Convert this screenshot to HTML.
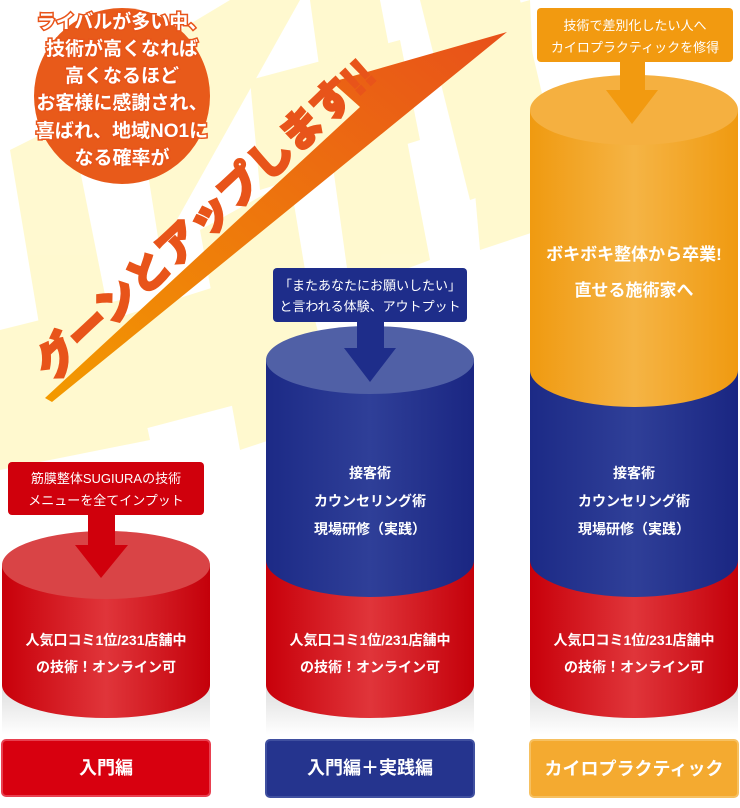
<!DOCTYPE html>
<html><head><meta charset="utf-8"><style>
html,body{margin:0;padding:0;background:#fff;}
svg{display:block;font-family:"Liberation Sans","Noto Sans CJK JP",sans-serif;}
</style></head><body>
<svg width="740" height="808" viewBox="0 0 740 808" xmlns="http://www.w3.org/2000/svg">
<defs>
<linearGradient id="red" x1="0" x2="1"><stop offset="0" stop-color="#c8000a"/><stop offset="0.5" stop-color="#e0353a"/><stop offset="1" stop-color="#c4000a"/></linearGradient>
<linearGradient id="blue" x1="0" x2="1"><stop offset="0" stop-color="#1c2a86"/><stop offset="0.5" stop-color="#2f3f98"/><stop offset="1" stop-color="#1a2682"/></linearGradient>
<linearGradient id="ora" x1="0" x2="1"><stop offset="0" stop-color="#f09a10"/><stop offset="0.5" stop-color="#f5b445"/><stop offset="1" stop-color="#f09a10"/></linearGradient>
<linearGradient id="refl" x1="0" y1="0" x2="0" y2="1"><stop offset="0" stop-color="#ddd"/><stop offset="1" stop-color="#fff"/></linearGradient>
<linearGradient id="arr" x1="0" y1="1" x2="1" y2="0"><stop offset="0" stop-color="#f39a00"/><stop offset="1" stop-color="#e8501a"/></linearGradient>
</defs>
<!-- rays -->
<g fill="#fff8c4" opacity="0.8">
<polygon points="10,150 70,120 130,420 60,450"/>
<polygon points="130,60 230,0 300,0 160,250"/>
<polygon points="200,230 290,180 330,420 240,450"/>
<polygon points="310,0 380,0 430,260 350,290"/>
<polygon points="420,0 520,0 560,170 470,200"/>
<polygon points="460,20 530,0 540,230 480,250"/>
<polygon points="0,330 120,300 150,440 0,470"/>
<polygon points="110,320 300,260 330,380 140,430"/>
<polygon points="250,80 400,40 420,140 260,190"/>
</g>
<!-- big arrow -->
<polygon points="45,398 360,107 332,82 507,32 52,402" fill="url(#arr)"/>
<text transform="translate(52,382) rotate(-43)" font-size="42" font-weight="900" fill="#e8541a" stroke="#e8541a" stroke-width="2.2" letter-spacing="0">グーンとアップします!!</text>
<!-- circle -->
<circle cx="122" cy="96" r="88" fill="#e85a1a"/>
<g font-size="19" font-weight="bold" fill="#fff" text-anchor="middle" stroke="#e8541a" stroke-width="3" paint-order="stroke">
<text x="122" y="28">ライバルが多い中、</text>
<text x="122" y="55">技術が高くなれば</text>
<text x="122" y="82">高くなるほど</text>
<text x="122" y="109">お客様に感謝され、</text>
<text x="122" y="137">喜ばれ、地域NO1に</text>
<text x="122" y="164">なる確率が</text>
</g>

<!-- reflections -->
<rect x="2" y="685" width="208" height="50" fill="url(#refl)"/>
<rect x="266" y="685" width="208" height="50" fill="url(#refl)"/>
<rect x="530" y="685" width="208" height="50" fill="url(#refl)"/>

<!-- cylinder 1 -->
<rect x="2" y="565" width="208" height="120" fill="url(#red)"/>
<ellipse cx="106" cy="685" rx="104" ry="33" fill="url(#red)"/>
<ellipse cx="106" cy="565" rx="104" ry="34" fill="#d94446"/>
<!-- cylinder 2 -->
<rect x="266" y="560" width="208" height="125" fill="url(#red)"/>
<ellipse cx="370" cy="685" rx="104" ry="33" fill="url(#red)"/>
<rect x="266" y="360" width="208" height="200" fill="url(#blue)"/>
<ellipse cx="370" cy="560" rx="104" ry="37" fill="url(#blue)"/>
<ellipse cx="370" cy="360" rx="104" ry="34" fill="#5060a6"/>
<!-- cylinder 3 -->
<rect x="530" y="560" width="208" height="125" fill="url(#red)"/>
<ellipse cx="634" cy="685" rx="104" ry="33" fill="url(#red)"/>
<rect x="530" y="370" width="208" height="190" fill="url(#blue)"/>
<ellipse cx="634" cy="560" rx="104" ry="37" fill="url(#blue)"/>
<rect x="530" y="110" width="208" height="260" fill="url(#ora)"/>
<ellipse cx="634" cy="370" rx="104" ry="37" fill="url(#ora)"/>
<ellipse cx="634" cy="110" rx="104" ry="35" fill="#f5b040"/>

<!-- callouts -->
<rect x="8" y="462" width="196" height="53" rx="4" fill="#d0000c"/>
<polygon points="88,515 115,515 115,545 128,545 101,578 75,545 88,545" fill="#d0000c"/>
<rect x="273" y="268" width="194" height="54" rx="4" fill="#1e2d8a"/>
<polygon points="357,322 384,322 384,348 396,348 370,382 344,348 357,348" fill="#1e2d8a"/>
<rect x="537" y="8" width="196" height="54" rx="4" fill="#f29a10"/>
<polygon points="620,62 645,62 645,90 658,90 632,124 606,90 620,90" fill="#f29a10"/>
<g font-size="13" fill="#fff" text-anchor="middle">
<text x="106" y="483">筋膜整体SUGIURAの技術</text>
<text x="106" y="505">メニューを全てインプット</text>
<text x="370" y="290">「またあなたにお願いしたい」</text>
<text x="370" y="311">と言われる体験、アウトプット</text>
<text x="635" y="30">技術で差別化したい人へ</text>
<text x="635" y="52">カイロプラクティックを修得</text>
</g>

<!-- cylinder texts -->
<g font-size="14" font-weight="bold" fill="#fff" text-anchor="middle">
<text x="106" y="645">人気口コミ1位/231店舗中</text>
<text x="106" y="672">の技術！オンライン可</text>
<text x="370" y="645">人気口コミ1位/231店舗中</text>
<text x="370" y="672">の技術！オンライン可</text>
<text x="634" y="645">人気口コミ1位/231店舗中</text>
<text x="634" y="672">の技術！オンライン可</text>
<text x="370" y="478">接客術</text>
<text x="370" y="506">カウンセリング術</text>
<text x="370" y="534">現場研修（実践）</text>
<text x="634" y="478">接客術</text>
<text x="634" y="506">カウンセリング術</text>
<text x="634" y="534">現場研修（実践）</text>
</g>
<g font-size="17" font-weight="bold" fill="#fff" text-anchor="middle">
<text x="634" y="260">ボキボキ整体から卒業!</text>
<text x="634" y="296">直せる施術家へ</text>
</g>

<!-- labels -->
<rect x="2" y="740" width="208" height="56" rx="4" fill="#d8000f" stroke="#e84050" stroke-width="2"/>
<rect x="266" y="740" width="208" height="57" rx="4" fill="#25348e" stroke="#4050a0" stroke-width="2"/>
<rect x="530" y="740" width="208" height="57" rx="4" fill="#f4aa30" stroke="#f6c060" stroke-width="2"/>
<g font-size="18" font-weight="bold" fill="#fff" text-anchor="middle">
<text x="106" y="774">入門編</text>
<text x="370" y="774">入門編＋実践編</text>
<text x="634" y="775">カイロプラクティック</text>
</g>
</svg>
</body></html>
